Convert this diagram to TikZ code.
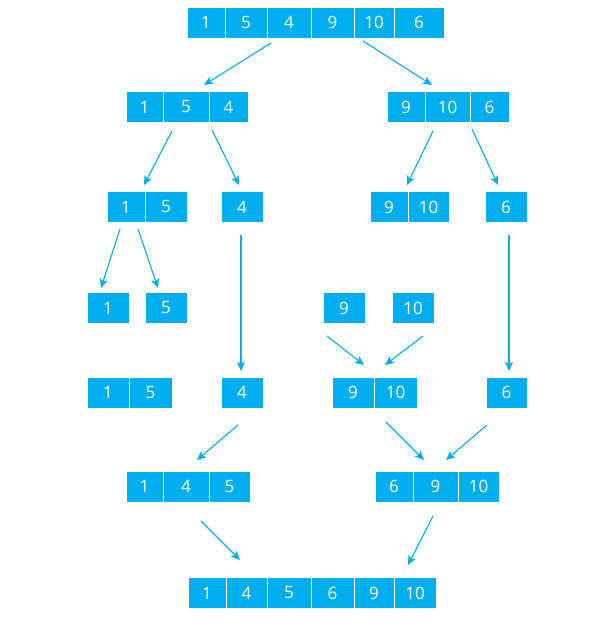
\documentclass[tikz,border=0pt]{standalone}
\usepackage{fontspec}
\setmainfont{Open Sans}
\usetikzlibrary{arrows.meta}
\definecolor{cell}{HTML}{00AEEF}
\tikzset{
  cellbox/.style={fill=cell, draw=white, line width=0.9pt, text=white,
    inner sep=0pt, minimum height=31pt, font=\fontsize{17}{17}\selectfont},
  arr/.style={draw=cell, line width=1.1pt,
    -{Stealth[length=9pt,width=8pt,inset=2pt]}}
}
% \cellat{name}{left}{right}{y-centre}{text}
\newcommand{\cellat}[5]{%
  \pgfmathsetmacro{\cw}{#3-#2}%
  \pgfmathsetmacro{\cx}{(#2+#3)/2}%
  \node[cellbox, minimum width=\cw pt] (#1) at (\cx,#4) {#5};}
\begin{document}
\begin{tikzpicture}[x=1pt,y=-1pt]
\useasboundingbox (0,0) rectangle (596,623);

% row 1: whole array
\cellat{a1}{187}{225}{22.5}{1}
\cellat{a2}{225}{267}{22.5}{5}
\cellat{a3}{267}{311}{22.5}{4}
\cellat{a4}{311}{354}{22.5}{9}
\cellat{a5}{354}{394}{22.5}{10}
\cellat{a6}{394}{444}{22.5}{6}

% row 2: halves
\cellat{b1}{126}{163}{107}{1}
\cellat{b2}{163}{209}{107}{5}
\cellat{b3}{209}{248}{107}{4}
\cellat{b4}{387}{425}{107}{9}
\cellat{b5}{425}{470}{107}{10}
\cellat{b6}{470}{509}{107}{6}

% row 3: quarters
\cellat{c1}{107}{145}{207}{1}
\cellat{c2}{145}{187}{207}{5}
\cellat{c3}{221}{263}{207}{4}
\cellat{c4}{370}{408}{207}{9}
\cellat{c5}{408}{449}{207}{10}
\cellat{c6}{485}{527}{207}{6}

% row 4: single elements
\cellat{d1}{87}{129}{308}{1}
\cellat{d2}{145}{187}{308}{5}
\cellat{d4}{323}{365}{308}{9}
\cellat{d5}{392}{434}{308}{10}

% row 5: first merges
\cellat{e1}{87}{129}{392.5}{1}
\cellat{e2}{129}{172}{392.5}{5}
\cellat{e3}{221}{263}{392.5}{4}
\cellat{e4}{332}{374}{392.5}{9}
\cellat{e5}{374}{417}{392.5}{10}
\cellat{e6}{486}{527}{392.5}{6}

% row 6: merged halves
\cellat{f1}{126}{163}{486.5}{1}
\cellat{f2}{163}{209}{486.5}{4}
\cellat{f3}{209}{250}{486.5}{5}
\cellat{f4}{375}{413}{486.5}{6}
\cellat{f5}{413}{458}{486.5}{9}
\cellat{f6}{458}{499}{486.5}{10}

% row 7: sorted array
\cellat{g1}{188}{226}{593}{1}
\cellat{g2}{226}{267}{593}{4}
\cellat{g3}{267}{311}{593}{5}
\cellat{g4}{311}{354}{593}{6}
\cellat{g5}{354}{394}{593}{9}
\cellat{g6}{394}{436}{593}{10}

% arrow end points
\coordinate (p1s) at (271,43);  \coordinate (p1e) at (204,85);
\coordinate (p2s) at (363,41);  \coordinate (p2e) at (432,85);
\coordinate (p3s) at (172,131); \coordinate (p3e) at (144,185);
\coordinate (p4s) at (212,130); \coordinate (p4e) at (239,185);
\coordinate (p5s) at (433,131); \coordinate (p5e) at (407,185);
\coordinate (p6s) at (472,129); \coordinate (p6e) at (498,185);
\coordinate (p7s) at (120,229); \coordinate (p7e) at (101,288);
\coordinate (p8s) at (138,229); \coordinate (p8e) at (158,288);
\coordinate (p9s) at (241,235); \coordinate (p9e) at (241,371);
\coordinate (p10s) at (509,235); \coordinate (p10e) at (509,371);
\coordinate (p11s) at (327,336); \coordinate (p11e) at (364,365);
\coordinate (p12s) at (423,336); \coordinate (p12e) at (385,365);
\coordinate (p13s) at (238,425); \coordinate (p13e) at (197,460);
\coordinate (p14s) at (386,422); \coordinate (p14e) at (424,460);
\coordinate (p15s) at (487,425); \coordinate (p15e) at (446,460);
\coordinate (p16s) at (201,521); \coordinate (p16e) at (240,560);
\coordinate (p17s) at (433,516); \coordinate (p17e) at (408,565);

\foreach \i in {1,...,17}{\draw[arr] (p\i s) -- (p\i e);}
\end{tikzpicture}
\end{document}
